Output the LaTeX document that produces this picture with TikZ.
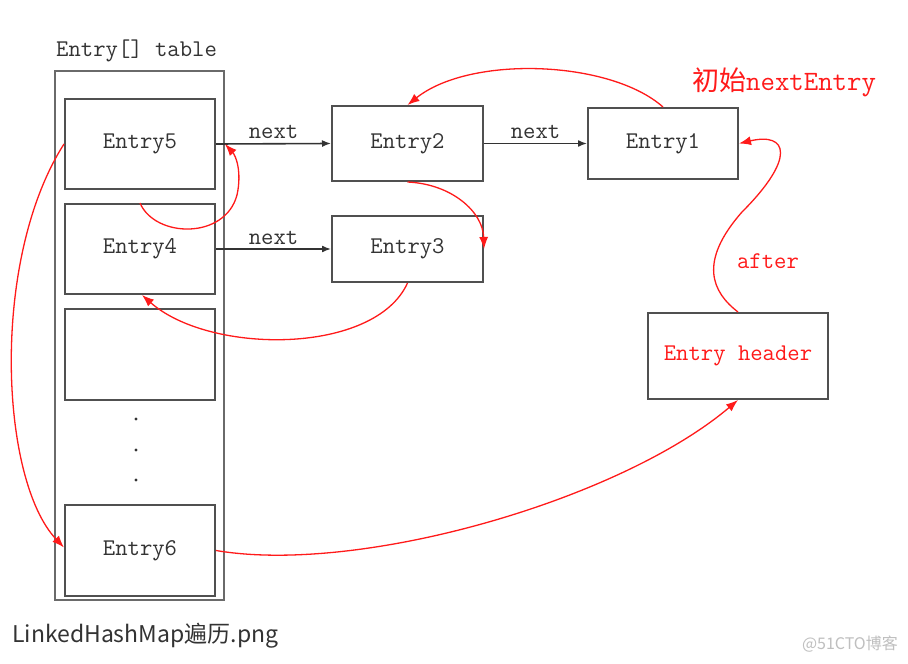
\documentclass[tikz,border=0pt]{standalone}
\usepackage{fontspec}
\newfontfamily\cjk{Noto Sans CJK SC}
\usetikzlibrary{arrows.meta,calc}
\definecolor{boxline}{HTML}{505050}
\definecolor{txt}{HTML}{333333}
\definecolor{redline}{HTML}{FF1A1A}
\tikzset{
  entrybox/.style={draw=boxline,line width=2pt,rectangle,inner sep=0pt,font=\ttfamily\fontsize{24}{24}\selectfont,text=txt},
  blk/.style={draw=black!80,line width=1.6pt,-{Latex[length=9pt,width=7pt]}},
  redarr/.style={draw=redline,line width=1.3pt,-{Latex[length=12pt,width=9pt]}},
  lbl/.style={font=\ttfamily\fontsize{24}{24}\selectfont,text=txt,inner sep=0pt},
  redlbl/.style={font=\ttfamily\fontsize{24}{24}\selectfont,text=redline,inner sep=0pt}
}
\begin{document}
\begin{tikzpicture}[x=1pt,y=-1pt]
\useasboundingbox (0,0) rectangle (908,664);
\fill[white] (0,0) rectangle (908,664);
% table
\node[draw=boxline!85,line width=2pt,minimum width=169pt,minimum height=529pt,inner sep=0pt] (tbl) at (139.5,335.5) {};
\node[lbl,anchor=south west] (tbllbl) at (56,62) {Entry[] table};
\node[entrybox,minimum width=150pt,minimum height=90pt] (e5) at (140,144) {Entry5};
\node[entrybox,minimum width=150pt,minimum height=90pt] (e4) at (140,249) {Entry4};
\node[entrybox,minimum width=150pt,minimum height=91pt] (emp) at (140,354.5) {};
\node[entrybox,minimum width=150pt,minimum height=91pt] (e6) at (140,550.5) {Entry6};
\foreach \yy in {419,450,480}{
  \fill[txt] (136,\yy) circle (1.6pt);
}
\node[entrybox,minimum width=151pt,minimum height=75pt] (e2) at (407.5,143.5) {Entry2};
\node[entrybox,minimum width=151pt,minimum height=66pt] (e3) at (407.5,249) {Entry3};
\node[entrybox,minimum width=150pt,minimum height=71pt] (e1) at (663,143.5) {Entry1};
\node[entrybox,minimum width=180pt,minimum height=86pt,text=redline] (hd) at (738,356) {Entry header};
% black next arrows
\draw[blk] (e5.east) -- node[lbl,above=4pt] {next} (e2.west);
\draw[blk] (e2.east) -- node[lbl,above=4pt] {next} (e1.west);
\draw[blk] (e4.east) -- node[lbl,above=4pt] {next} (e3.west);
% red iteration curves
\draw[redarr] (e1.north) .. controls (610,60) and (470,55) .. (e2.north);
\draw[redarr] (e2.south) .. controls (452,184) and (483,212) .. (e3.east);
\draw[redarr] (e4.north) .. controls (155,238) and (225,240) .. (237,195) .. controls (242,172) and (236,156) .. ($(e5.east)+(9,0)$);
\draw[redarr] (e3.south) .. controls (375,355) and (210,355) .. ($(e4.south)+(2,0)$);
\draw[redarr] (e5.west) .. controls (-10,260) and (0,480) .. ($(e6.west)+(0,-3)$);
\draw[redarr] (e6.east) .. controls (360,575) and (620,500) .. (hd.south);
\draw[redarr] (hd.north) .. controls (712,292) and (698,262) .. (742,212) .. controls (796,158) and (788,132) .. (e1.east);
\node[redlbl] (after) at (768,261) {after};
\node[text=redline,inner sep=0pt,anchor=west] (init) at (692,82) {{\cjk\fontsize{27}{27}\selectfont 初始}{\ttfamily\fontsize{28}{28}\selectfont nextEntry}};
% caption and watermark
\node[anchor=west,inner sep=0pt,text=txt,font=\cjk\fontsize{23}{23}\selectfont] (cap) at (12,636) {LinkedHashMap遍历.png};
\node[anchor=east,inner sep=0pt,text=black!25,font=\cjk\fontsize{16}{16}\selectfont] (wm) at (898,644) {@51CTO博客};
\end{tikzpicture}
\end{document}
